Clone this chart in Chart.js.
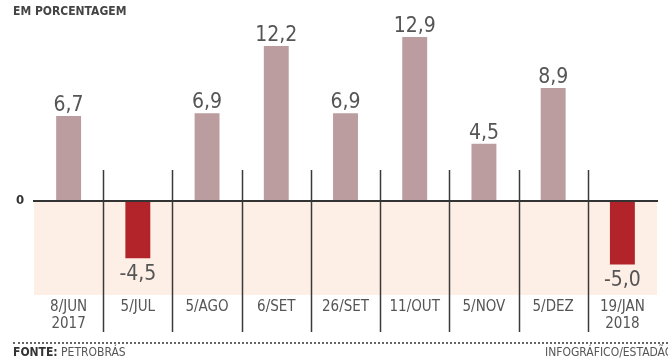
<!DOCTYPE html>
<html lang="pt-BR">
<head>
<meta charset="utf-8">
<title>Reajustes - em porcentagem</title>
<script src="https://cdn.jsdelivr.net/npm/chart.js@4"></script>
<style>
  body { margin: 0; background: #fff; }
  #wrap { position: relative; width: 668px; height: 361px; overflow: hidden;
          font-family: "DejaVu Sans Condensed", "DejaVu Sans", sans-serif; color: #555; }
  #chart { position: absolute; left: 0; top: 0; }
  .title { position: absolute; left: 13px; top: 4px; font-size: 12px; font-weight: bold; color: #444; }
  .rule { position: absolute; left: 13px; right: 0; top: 342px; border-top: 2px dotted #666; }
  .source { position: absolute; left: 13px; top: 345px; font-size: 12px; white-space: nowrap; }
  .source b { color: #333; }
  .credit { position: absolute; left: 545px; top: 345px; font-size: 12px; white-space: nowrap; }
</style>
</head>
<body>
<div id="wrap">
  <canvas id="chart" width="668" height="361"></canvas>
  <div class="title">EM PORCENTAGEM</div>
  <div class="rule"></div>
  <div class="source"><b>FONTE:</b> PETROBRÁS</div>
  <div class="credit">INFOGRÁFICO/ESTADÃO</div>
</div>
<script>
// dates of each price change
const dates = [['8/JUN', '2017'], '5/JUL', '5/AGO', '6/SET', '26/SET', '11/OUT', '5/NOV', '5/DEZ', ['19/JAN', '2018']];
// change in %
const changes = [6.7, -4.5, 6.9, 12.2, 6.9, 12.9, 4.5, 8.9, -5.0];

const upColor = '#bb9d9f';
const downColor = '#b2232a';
const fontFam = '"DejaVu Sans Condensed", "DejaVu Sans", sans-serif';

function fmt(v) {
  return v.toFixed(1).replace('.', ',');
}

// pink band under zero, zero line, separators and value labels
const decor = {
  id: 'decor',
  beforeDatasetsDraw(chart) {
    const { ctx, chartArea } = chart;
    const y0 = chart.scales.y.getPixelForValue(0);
    ctx.save();
    ctx.fillStyle = '#fdeee6';
    ctx.fillRect(chartArea.left, y0, chartArea.right - chartArea.left, chartArea.bottom - y0);
    ctx.restore();
  },
  afterDatasetsDraw(chart) {
    const { ctx, chartArea } = chart;
    const x = chart.scales.x;
    const y0 = chart.scales.y.getPixelForValue(0);
    ctx.save();

    // separators
    ctx.strokeStyle = '#3a3a3a';
    ctx.lineWidth = 1.5;
    for (let i = 0; i < changes.length - 1; i++) {
      const sx = Math.round((x.getPixelForValue(i) + x.getPixelForValue(i + 1)) / 2) + 0.5;
      ctx.beginPath();
      ctx.moveTo(sx, 170);
      ctx.lineTo(sx, 332);
      ctx.stroke();
    }

    // zero line
    ctx.strokeStyle = '#333';
    ctx.lineWidth = 2;
    ctx.beginPath();
    ctx.moveTo(chartArea.left - 1, y0);
    ctx.lineTo(chartArea.right + 1, y0);
    ctx.stroke();

    ctx.fillStyle = '#333';
    ctx.font = 'bold 13px ' + fontFam;
    ctx.textAlign = 'center';
    ctx.textBaseline = 'middle';
    ctx.fillText('0', 20, y0);

    // value labels
    ctx.fillStyle = '#555';
    ctx.font = '21px ' + fontFam;
    chart.getDatasetMeta(0).data.forEach((bar, i) => {
      const v = changes[i];
      if (v >= 0) {
        ctx.textBaseline = 'alphabetic';
        ctx.fillText(fmt(v), bar.x, bar.y - 5);
      } else {
        ctx.textBaseline = 'top';
        ctx.fillText(fmt(v), bar.x, bar.y + 6);
      }
    });
    ctx.restore();
  }
};

new Chart(document.getElementById('chart'), {
  type: 'bar',
  data: {
    labels: dates,
    datasets: [{
      data: changes,
      backgroundColor: changes.map(v => v >= 0 ? upColor : downColor),
      barPercentage: 0.36,
      categoryPercentage: 1
    }]
  },
  options: {
    responsive: false,
    animation: false,
    layout: { padding: { top: 30, left: 34, right: 11, bottom: 0 } },
    plugins: { legend: { display: false }, tooltip: { enabled: false } },
    scales: {
      x: {
        grid: { display: false, drawTicks: false },
        border: { display: false },
        ticks: {
          color: '#555',
          padding: 4,
          maxRotation: 0,
          autoSkip: false,
          font: { family: fontFam, size: 15, lineHeight: 1.1 }
        },
        afterFit(scale) { scale.height = 66; }
      },
      y: {
        display: false,
        min: -7.4,
        max: 13.46
      }
    }
  },
  plugins: [decor]
});
</script>
</body>
</html>
